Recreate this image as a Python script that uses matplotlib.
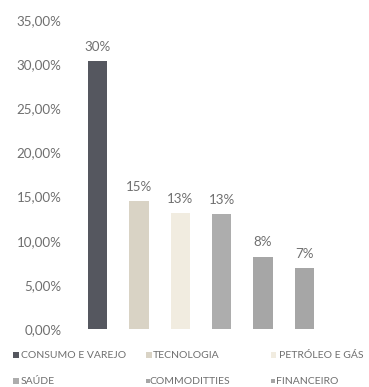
import matplotlib
matplotlib.use("Agg")
import matplotlib.pyplot as plt
from matplotlib.patches import Rectangle
from matplotlib.ticker import FuncFormatter, MultipleLocator

categories = ["CONSUMO E VAREJO", "TECNOLOGIA", "PETRÓLEO E GÁS",
              "SAÚDE", "COMMODITTIES", "FINANCEIRO"]
values = [30.3, 14.5, 13.1, 13.0, 8.2, 6.9]
value_labels = ["30%", "15%", "13%", "13%", "8%", "7%"]
colors = ["#55575f", "#d9d3c5", "#f1ece0", "#adadad", "#a6a6a6", "#a6a6a6"]

text_color = "#6f6f6f"
plt.rcParams["font.family"] = ["Lato", "DejaVu Sans"]
plt.rcParams["font.weight"] = "normal"

fig = plt.figure(figsize=(3.69, 3.87), dpi=100)
ax = fig.add_axes([76.8 / 369, 58 / 387, 248.4 / 369, 309 / 387])

x = list(range(len(categories)))
bars = ax.bar(x, values, width=0.47, color=colors)

for xi, v, lab in zip(x, values, value_labels):
    ax.annotate(lab, (xi, v), xytext=(0, 6), textcoords="offset points",
                ha="center", va="bottom", fontsize=9.6, color=text_color)

ax.set_xlim(-0.5, len(categories) - 0.5)
ax.set_ylim(0, 35)
ax.yaxis.set_major_locator(MultipleLocator(5))
ax.yaxis.set_major_formatter(FuncFormatter(lambda v, p: f"{v:.2f}%".replace(".", ",")))
ax.tick_params(axis="y", length=0, pad=11, labelsize=9.6, labelcolor=text_color)
ax.tick_params(axis="x", length=0, labelbottom=False)
for s in ax.spines.values():
    s.set_visible(False)

# legend drawn as marker squares plus labels, 3 columns x 2 rows
col_marker_x = [12.7, 145.7, 270.7]
col_text_x = [21, 153, 279]
row_y = [355, 381]
marker_sizes = [6.5, 6, 5.5, 6, 4, 4]
for i, (name, c) in enumerate(zip(categories, colors)):
    col, row = i % 3, i // 3
    sz = marker_sizes[i]
    mx = col_marker_x[col]
    my = row_y[row]
    fig.patches.append(Rectangle((mx / 369, (387 - my - sz / 2) / 387),
                                 sz / 369, sz / 387, transform=fig.transFigure,
                                 facecolor=c, edgecolor="none"))
    tx = col_text_x[col] - (3 if row == 1 and col > 0 else 0)
    fig.text(tx / 369, (387 - my) / 387, name, ha="left", va="center",
             fontsize=7.5, color=text_color)

fig.savefig("out.png", dpi=100, facecolor="white")
